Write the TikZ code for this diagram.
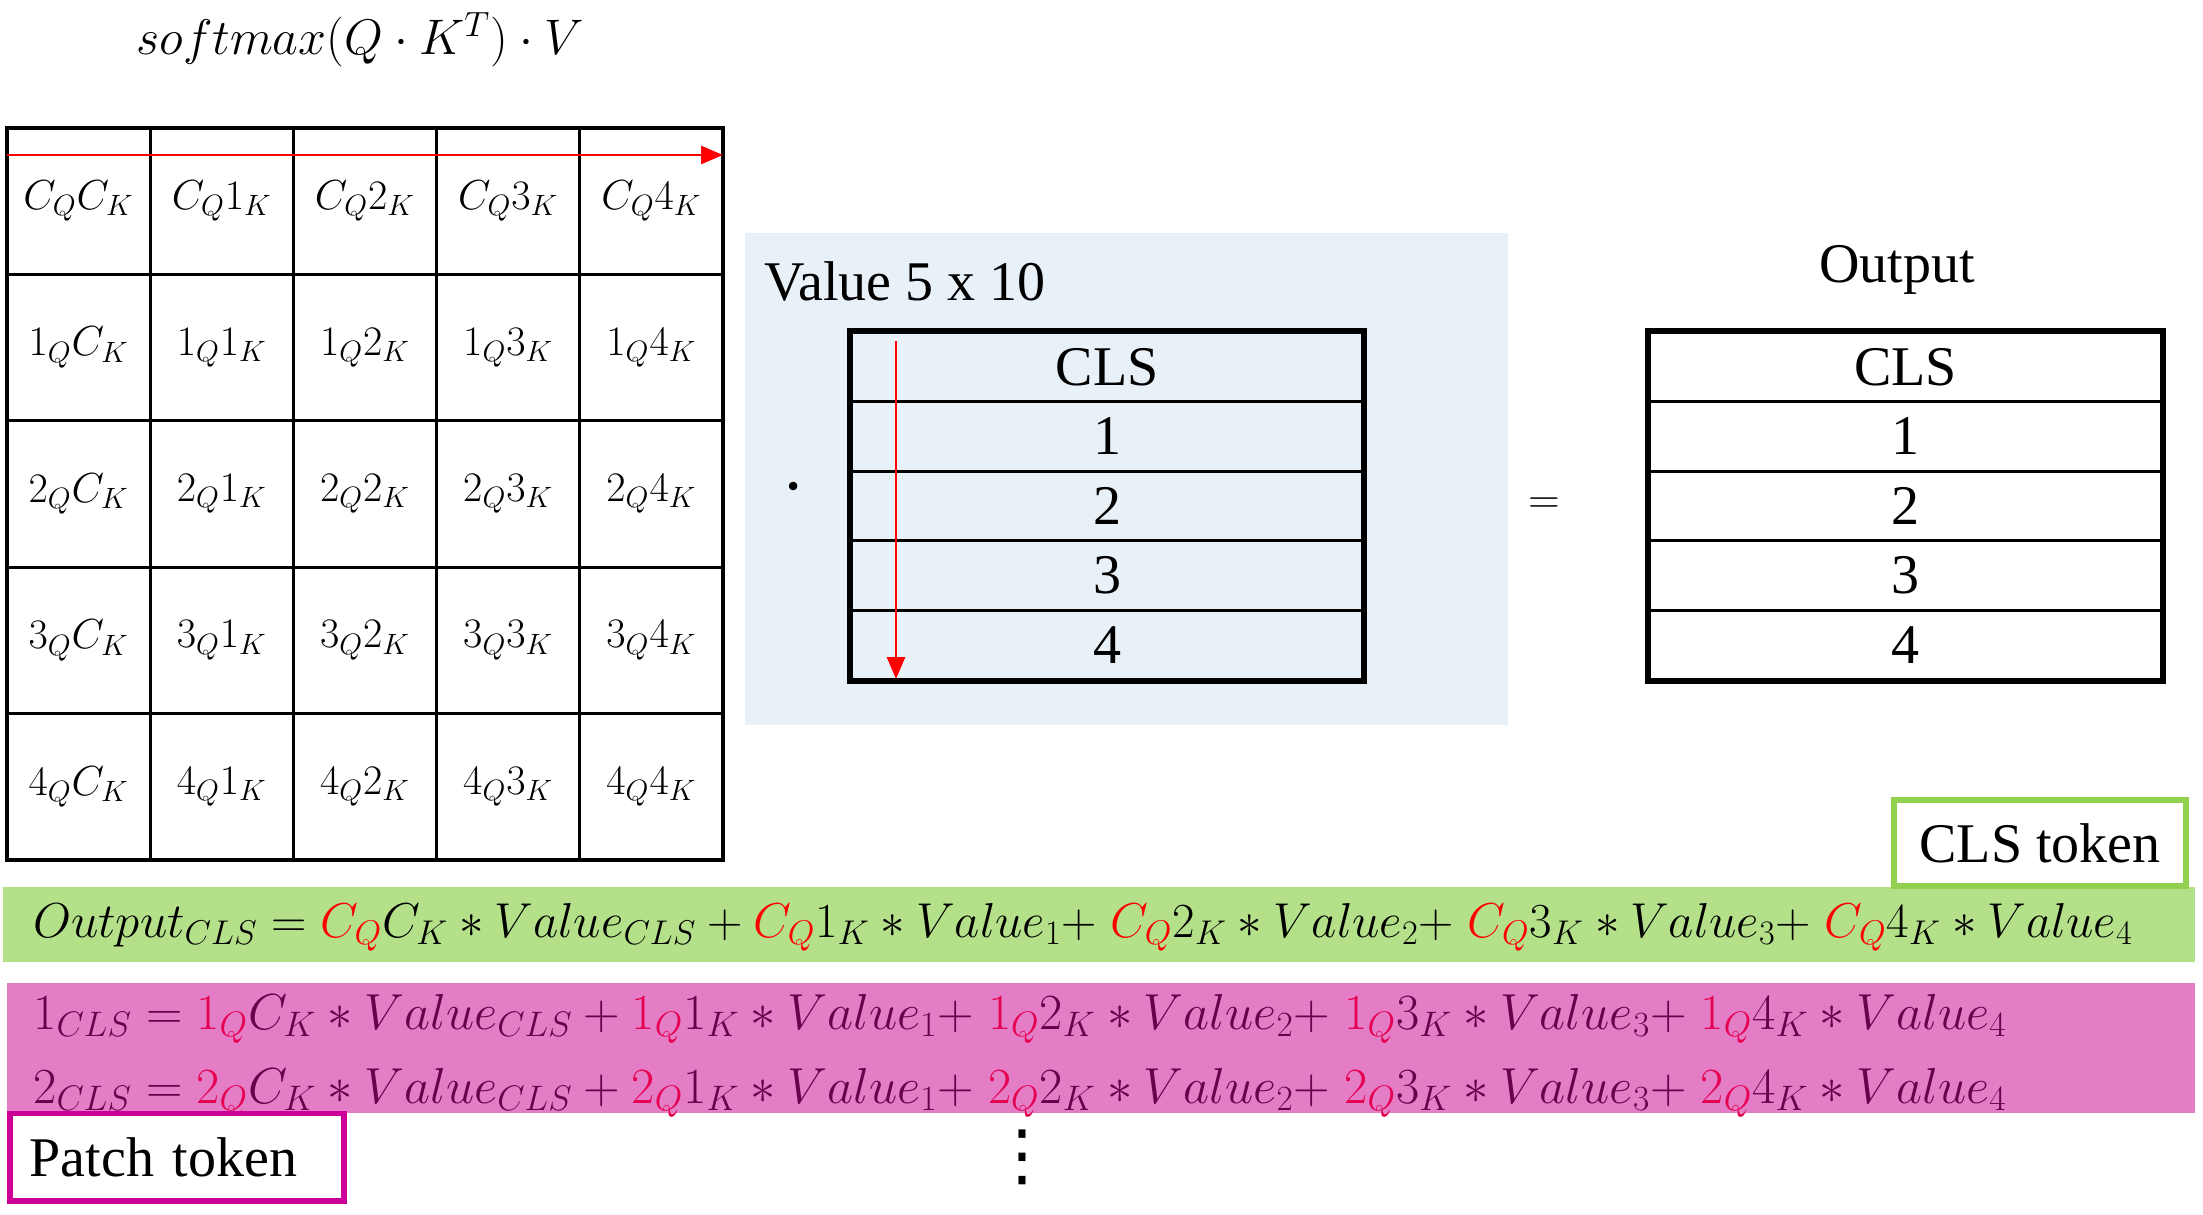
\RequirePackage{fix-cm}
\documentclass[tikz,border=0pt]{standalone}
\usepackage[no-math]{fontspec}
\setmainfont{Liberation Serif}
\newfontfamily\dejavu{DejaVu Sans}
\usetikzlibrary{arrows.meta}
\definecolor{gband}{RGB}{180,224,137}
\definecolor{gborder}{RGB}{146,208,80}
\definecolor{pband}{RGB}{228,124,198}
\definecolor{pborder}{RGB}{204,0,153}
\definecolor{bluebg}{RGB}{232,240,248}
\definecolor{ptxt}{RGB}{105,0,75}
\definecolor{pred}{RGB}{230,0,80}
\newcommand{\rc}[1]{{\color{red}#1}}
\newcommand{\pc}[1]{{\color{pred}#1}}
\tikzset{
  cell/.style={draw, line width=1.6pt, minimum width=71.6pt, minimum height=73.2pt, inner sep=0pt, font=\fontsize{21}{24}\selectfont},
  vrow/.style={draw, line width=1.6pt, minimum width=256pt, minimum height=34.8pt, inner sep=0pt, font=\fontsize{28}{30}\selectfont},
  outer/.style={line width=2.8pt},
  redarrow/.style={draw=red, line width=1.4pt, -{Triangle[length=11pt,width=9pt]}},
  lbl/.style={font=\fontsize{28}{32}\selectfont},
  eq/.style={inner sep=0pt},
  tokbox/.style={line width=2.8pt, fill=white, inner ysep=0pt, font=\fontsize{28}{32}\selectfont}
}
\begin{document}
\begin{tikzpicture}[x=0.5pt,y=-0.5pt]
\useasboundingbox (0,0) rectangle (2203,1214);
% formula
\node[font=\fontsize{25}{30}\selectfont] (formula) at (360,40) {$softmax(Q\cdot K^T)\cdot V$};
% grid
\foreach \r [count=\i from 0] in {C,1,2,3,4}{
  \foreach \c [count=\j from 0] in {C,1,2,3,4}{
    \node[cell] (g\i\j) at ({7+143.2*(\j+0.5)},{128+146.4*(\i+0.5)}) {$\r_Q\c_K$};
  }
}
\coordinate (ha) at (7,155);
\coordinate (hb) at (723,155);
\draw[redarrow] (ha) -- (hb);
% blue box
\fill[bluebg] (745,233) rectangle (1508,725);
\node[lbl, anchor=west] (vtitle) at (757,281) {Value 5 x 10};
\foreach \t [count=\k from 0] in {CLS,1,2,3,4}{
  \node[vrow] (v\k) at (1107,{332+69.6*(\k+0.5)}) {\t};
  \node[vrow] (o\k) at (1905.5,{332+69.6*(\k+0.5)}) {\t};
}
\draw[outer] (v0.north west) rectangle (v4.south east);
\draw[outer] (o0.north west) rectangle (o4.south east);
\coordinate (va) at (896,341);
\coordinate (vb) at (896,679);
\draw[redarrow] (va) -- (vb);
\node[font=\fontsize{40}{44}\selectfont] (dot) at (794,489) {$\cdot$};
\node[font=\fontsize{22}{26}\selectfont] (eqsign) at (1544,506) {$=$};
\node[lbl] (otitle) at (1897,270) {Output};
% green band
\fill[gband] (3,887) rectangle (2195,962);
\node[eq, anchor=base west, font=\fontsize{24.5}{30}\selectfont] (geq) at (33,937) {$Output_{CLS} = \rc{C_Q}C_K * Value_{CLS} + \rc{C_Q}1_K * Value_1{+}\;\rc{C_Q}2_K * Value_2{+}\;\rc{C_Q}3_K * Value_3{+}\;\rc{C_Q}4_K * Value_4$};
% pink band
\fill[pband] (7,983) rectangle (2195,1113);
\node[eq, anchor=base west, text=ptxt, font=\fontsize{25.3}{30}\selectfont] (p1) at (33,1029) {$1_{CLS} = \pc{1_Q}C_K * Value_{CLS} + \pc{1_Q}1_K * Value_1{+}\;\pc{1_Q}2_K * Value_2{+}\;\pc{1_Q}3_K * Value_3{+}\;\pc{1_Q}4_K * Value_4$};
\node[eq, anchor=base west, text=ptxt, font=\fontsize{25.3}{30}\selectfont] (p2) at (33,1103) {$2_{CLS} = \pc{2_Q}C_K * Value_{CLS} + \pc{2_Q}1_K * Value_1{+}\;\pc{2_Q}2_K * Value_2{+}\;\pc{2_Q}3_K * Value_3{+}\;\pc{2_Q}4_K * Value_4$};
% token boxes
\node[tokbox, draw=gborder, minimum width=146.2pt, minimum height=43.2pt] (clstok) at (2040,843) {CLS token};
\node[tokbox, draw=pborder, inner xsep=10pt, text width=147.2pt, align=left, minimum height=43.7pt] (pattok) at (177,1157) {Patch token};
\node[inner sep=0pt, font=\dejavu\fontsize{34}{36}\selectfont] (vd) at (1022,1157) {⋮};
\end{tikzpicture}
\end{document}
